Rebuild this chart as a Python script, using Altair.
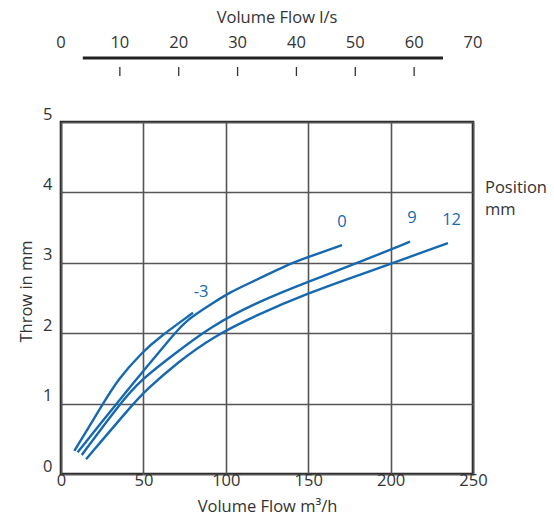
import altair as alt
import pandas as pd

# ---- data ----
pos_names = ["-3", "0", "9", "12"]

cm3_x = [8.1, 25.3, 34.4, 49.6, 60.1, 80.1]
cm3_y = [0.33, 0.99, 1.34, 1.74, 1.95, 2.29]

c0_x = [10.1, 33.4, 45.5, 49.6, 67.2, 76.3, 90.4, 101.3, 118.9, 137.1, 149.9, 170.5]
c0_y = [0.31, 0.99, 1.34, 1.45, 1.95, 2.19, 2.40, 2.57, 2.76, 2.97, 3.08, 3.25]

c9_x = [12.6, 35.4, 48.5, 68.0, 90.4, 118.9, 149.9, 181.4, 211.8]
c9_y = [0.27, 0.99, 1.34, 1.69, 2.09, 2.44, 2.73, 3.01, 3.30]

c12_x = [15.2, 43.5, 51.6, 70.4, 92.2, 118.9, 149.9, 181.4, 201.5, 234.8]
c12_y = [0.21, 0.99, 1.19, 1.58, 1.95, 2.26, 2.57, 2.83, 3.00, 3.28]

label_x = [85.0, 170.5, 213.0, 237.0]
label_y = [2.59, 3.58, 3.64, 3.61]

x_ticks = [0, 50, 100, 150, 200, 250]
y_ticks = [0, 1, 2, 3, 4, 5]
ls_labels = [0, 10, 20, 30, 40, 50, 60, 70]
ls_ticks = [10, 20, 30, 40, 50, 60]
ls_line = [3.7, 64.9]

legend_text_str = "Position\nmm"

BLUE = "#1569b0"
TXT = "#333333"
FONT = "Open Sans"
FS = 16.5

rows = []
for name, xs_, ys_ in zip(pos_names, [cm3_x, c0_x, c9_x, c12_x], [cm3_y, c0_y, c9_y, c12_y]):
    for i, (a, b) in enumerate(zip(xs_, ys_)):
        rows.append({"pos": name, "flow": a, "throw": b, "i": i})
curves = pd.DataFrame(rows)
labels = pd.DataFrame({"pos": pos_names, "flow": label_x, "throw": label_y})

xs = alt.Scale(domain=[0, 250], nice=False, zero=True)
ys = alt.Scale(domain=[0, 5], nice=False)

lines = alt.Chart(curves).mark_line(
    color=BLUE, strokeWidth=2.4, interpolate="basis", clip=True
).encode(
    x=alt.X("flow:Q", scale=xs, axis=alt.Axis(
        values=x_ticks, format="d", title="Volume Flow m³/h", grid=True, ticks=False, domain=False,
        labelFlush=False, labelOverlap=False, labelPadding=-2, titlePadding=10,
        labelFontSize=FS, titleFontSize=FS, titleFontWeight="normal",
        labelColor=TXT, titleColor=TXT, gridColor="#555555", gridWidth=1.6,
        labelFont=FONT, titleFont=FONT)),
    y=alt.Y("throw:Q", scale=ys, axis=alt.Axis(
        values=y_ticks, format="d", title="Throw in mm", grid=True, ticks=False, domain=False,
        labelFlush=False, labelOverlap=False, labelPadding=9, labelBaseline="bottom",
        titlePadding=8, titleY=169, labelFontSize=FS, titleFontSize=FS, titleFontWeight="normal",
        labelColor=TXT, titleColor=TXT, gridColor="#555555", gridWidth=1.6,
        labelFont=FONT, titleFont=FONT)),
    detail="pos:N",
    order="i:Q",
)

curve_labels = alt.Chart(labels).mark_text(
    color=BLUE, fontSize=FS, font=FONT, align="center", baseline="middle"
).encode(
    x=alt.X("flow:Q", scale=xs),
    y=alt.Y("throw:Q", scale=ys),
    text="pos:N",
)

legend_text = alt.Chart(pd.DataFrame({"t": [legend_text_str]})).mark_text(
    color=TXT, fontSize=FS, font=FONT, align="left", baseline="middle",
    lineBreak="\n", lineHeight=22
).encode(
    x=alt.value(424),
    y=alt.value(66),
    text="t:N",
)

main = alt.layer(lines, curve_labels)

ls_scale = alt.Scale(domain=[0, 70], nice=False)
top_lab = alt.Chart(pd.DataFrame({"v": ls_labels})).mark_text(
    color=TXT, fontSize=FS, font=FONT, align="center", baseline="middle"
).encode(
    x=alt.X("v:Q", scale=ls_scale, axis=None),
    y=alt.value(-79),
    text="v:Q",
)
top_line = alt.Chart(pd.DataFrame({"a": [ls_line[0]], "b": [ls_line[1]]})).mark_rule(
    color="#222222", strokeWidth=3.2
).encode(
    x=alt.X("a:Q", scale=ls_scale, axis=None),
    x2="b:Q",
    y=alt.value(-64),
)
top_ticks = alt.Chart(pd.DataFrame({"v": ls_ticks})).mark_rule(
    color="#333333", strokeWidth=1.3
).encode(
    x=alt.X("v:Q", scale=ls_scale, axis=None),
    y=alt.value(-55),
    y2=alt.value(-46),
)
top_title = alt.Chart(pd.DataFrame({"t": ["Volume Flow l/s"]})).mark_text(
    color=TXT, fontSize=FS, font=FONT, align="center", baseline="middle"
).encode(
    x=alt.value(216),
    y=alt.value(-104),
    text="t:N",
)
top = alt.layer(top_lab, top_line, top_ticks, top_title)

chart = alt.layer(main, top, legend_text).resolve_scale(
    x="independent"
).properties(
    width=412, height=352,
    background="white",
    autosize=alt.AutoSizeParams(type="none"),
    padding={"left": 53, "top": 114, "right": 73, "bottom": 40},
).configure_view(
    stroke="#222222", strokeWidth=2.6
)

chart.save("out.html", embed_options={"renderer": "svg", "actions": False})
